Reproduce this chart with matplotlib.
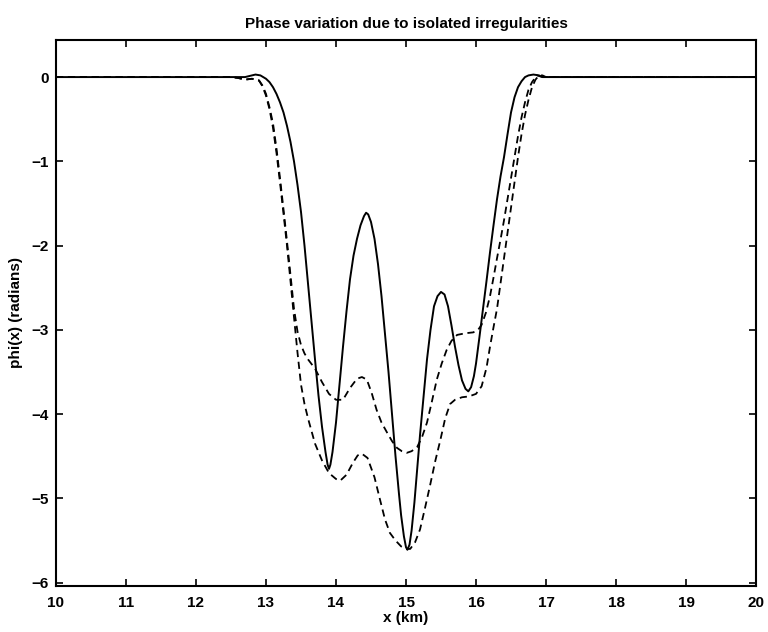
import matplotlib
matplotlib.use("Agg")
import matplotlib.pyplot as plt

plt.rcParams['font.family'] = ['Liberation Sans', 'DejaVu Sans']

# Solid curve
x_solid = [10.0, 12.6, 12.7, 12.75, 12.85, 12.92, 13.0, 13.05, 13.1, 13.15, 13.2,
           13.25, 13.3, 13.35, 13.4, 13.45, 13.5, 13.55, 13.6, 13.65, 13.7, 13.75,
           13.8, 13.85, 13.88, 13.9, 13.92, 13.95, 14.0, 14.05, 14.1, 14.15, 14.2,
           14.25, 14.3, 14.35, 14.4, 14.43, 14.46, 14.5, 14.55, 14.6, 14.65, 14.7,
           14.75, 14.8, 14.85, 14.9, 14.93, 14.97, 15.0, 15.02, 15.05, 15.08, 15.12,
           15.15, 15.2, 15.25, 15.3, 15.35, 15.4, 15.45, 15.5, 15.55, 15.6, 15.65,
           15.7, 15.75, 15.8, 15.85, 15.89, 15.93, 15.97, 16.0, 16.05, 16.1, 16.15,
           16.2, 16.25, 16.3, 16.35, 16.4, 16.45, 16.5, 16.55, 16.6, 16.65, 16.7,
           16.75, 16.82, 16.9, 16.95, 17.0, 20.0, 20.0]
y_solid = [0.0, 0.0, 0.0, 0.01, 0.03, 0.02, -0.02, -0.06, -0.12, -0.2, -0.3,
           -0.42, -0.58, -0.77, -1.0, -1.28, -1.6, -2.0, -2.45, -2.9, -3.35, -3.78,
           -4.15, -4.45, -4.6, -4.65, -4.6, -4.45, -4.1, -3.65, -3.2, -2.78, -2.4,
           -2.12, -1.92, -1.76, -1.65, -1.61, -1.63, -1.72, -1.92, -2.22, -2.6, -3.05,
           -3.5, -4.0, -4.5, -4.95, -5.2, -5.45, -5.58, -5.61, -5.55, -5.38, -5.05,
           -4.75, -4.25, -3.8, -3.35, -3.0, -2.72, -2.6, -2.55, -2.58, -2.72, -2.95,
           -3.2, -3.42, -3.6, -3.7, -3.73, -3.68, -3.55, -3.4, -3.08, -2.75, -2.42,
           -2.08, -1.76, -1.45, -1.18, -0.95, -0.68, -0.42, -0.24, -0.12, -0.05, 0.0,
           0.02, 0.03, 0.02, 0.0, 0.0, 0.0, -0.57]

# Upper dashed curve
x_dash1 = [10.0, 12.5, 12.6, 12.7, 12.8, 12.9, 12.95, 13.0, 13.05, 13.1, 13.15, 13.2,
           13.25, 13.3, 13.35, 13.4, 13.45, 13.5, 13.55, 13.6, 13.7, 13.8, 13.9, 14.0,
           14.1, 14.2, 14.3, 14.37, 14.44, 14.51, 14.58, 14.65, 14.73, 14.8, 14.87,
           14.94, 15.01, 15.08, 15.16, 15.23, 15.3, 15.37, 15.44, 15.51, 15.58,
           15.65, 15.73, 15.85, 15.96, 16.03, 16.08, 16.14, 16.2, 16.25, 16.3, 16.35,
           16.4, 16.45, 16.5, 16.55, 16.6, 16.65, 16.7, 16.75, 16.8, 16.87, 16.95, 20.0]
y_dash1 = [0.0, 0.0, -0.01, -0.03, -0.02, -0.04, -0.1, -0.2, -0.36, -0.55, -0.85, -1.2,
           -1.57, -1.95, -2.35, -2.75, -3.02, -3.18, -3.28, -3.35, -3.46, -3.62, -3.76,
           -3.83, -3.83, -3.69, -3.58, -3.56, -3.59, -3.75, -3.95, -4.1, -4.22, -4.32,
           -4.40, -4.44, -4.46, -4.44, -4.39, -4.27, -4.1, -3.85, -3.59, -3.4, -3.24,
           -3.13, -3.06, -3.04, -3.03, -3.0, -2.94, -2.8, -2.6, -2.38, -2.15, -1.93,
           -1.7, -1.45, -1.2, -0.95, -0.7, -0.48, -0.3, -0.15, -0.06, 0.02, 0.0, 0.0]

# Lower dashed curve
x_dash2 = [10.0, 12.5, 12.6, 12.7, 12.8, 12.9, 12.95, 13.0, 13.05, 13.1, 13.15, 13.2,
           13.25, 13.3, 13.35, 13.4, 13.45, 13.5, 13.55, 13.6, 13.7, 13.8, 13.9, 14.0,
           14.06, 14.15, 14.24, 14.31, 14.37, 14.45, 14.55, 14.63, 14.7, 14.77,
           14.85, 14.93, 15.0, 15.06, 15.13, 15.2, 15.27, 15.34, 15.42, 15.49, 15.56,
           15.63, 15.7, 15.8, 15.9, 16.0, 16.08, 16.15, 16.2, 16.25, 16.3, 16.35,
           16.4, 16.45, 16.5, 16.55, 16.6, 16.65, 16.7, 16.75, 16.8, 16.85, 16.9,
           16.95, 17.0, 20.0]
y_dash2 = [0.0, 0.0, -0.01, -0.03, -0.02, -0.04, -0.11, -0.22, -0.38, -0.6, -0.9, -1.25,
           -1.62, -2.0, -2.42, -2.85, -3.27, -3.65, -3.88, -4.05, -4.35, -4.55, -4.7,
           -4.77, -4.79, -4.72, -4.58, -4.49, -4.47, -4.52, -4.75, -5.02, -5.25, -5.41,
           -5.5, -5.57, -5.6, -5.6, -5.52, -5.37, -5.12, -4.86, -4.55, -4.31, -4.05,
           -3.88, -3.83, -3.8, -3.79, -3.76, -3.67, -3.45, -3.2, -2.97, -2.75, -2.45,
           -2.15, -1.85, -1.55, -1.25, -0.95, -0.68, -0.45, -0.27, -0.12, -0.03, 0.02,
           0.02, 0.0, 0.0]

x_ticks = [10, 11, 12, 13, 14, 15, 16, 17, 18, 19, 20]
y_ticks = [0, -1, -2, -3, -4, -5, -6]

fig = plt.figure(figsize=(7.68, 6.32), dpi=100)
ax = fig.add_axes([0.0729, 0.0728, 0.9115, 0.8639])

ax.plot(x_solid, y_solid, color='black', lw=1.4, zorder=3, clip_on=False)
ax.plot(x_dash1, y_dash1, color='black', lw=1.3, dashes=(4, 2.6))
ax.plot(x_dash2, y_dash2, color='black', lw=1.3, dashes=(4, 2.6))

ax.set_xlim(10, 20)
ax.set_ylim(-6.04, 0.44)
ax.set_xticks(x_ticks)
ax.set_yticks(y_ticks)
ax.set_xticklabels([str(t) for t in x_ticks])
ax.set_yticklabels([str(t).replace('-', '\u2212') for t in y_ticks])
ax.tick_params(direction='in', top=True, right=True, length=5, width=1.2,
               labelsize=11)
ax.tick_params(axis='x', pad=7)
ax.tick_params(axis='y', pad=5)
for lab in ax.get_xticklabels() + ax.get_yticklabels():
    lab.set_fontweight('bold')
for s in ax.spines.values():
    s.set_linewidth(1.5)

ax.set_title('Phase variation due to isolated irregularities', fontsize=11,
             fontweight='bold', pad=9)
ax.set_xlabel('x (km)', fontsize=11, fontweight='bold', labelpad=1)
ax.set_ylabel('phi(x) (radians)', fontsize=11, fontweight='bold', labelpad=6)

fig.savefig('out.png', dpi=100)
